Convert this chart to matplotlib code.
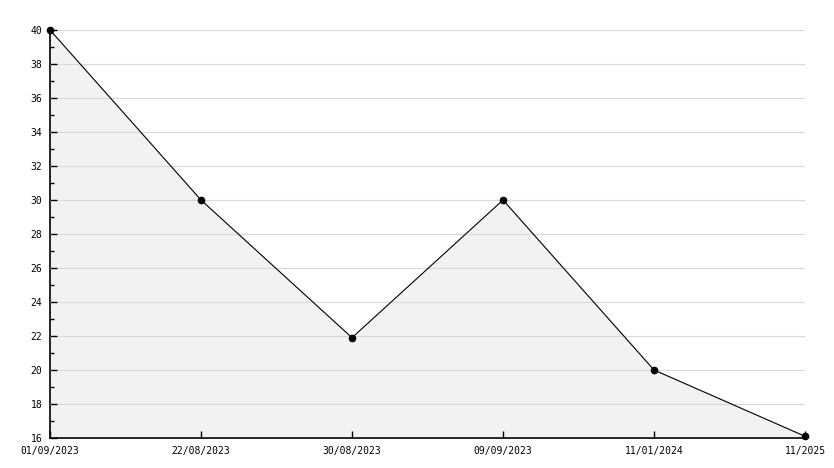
import matplotlib
matplotlib.use("Agg")
import matplotlib.pyplot as plt
from matplotlib.ticker import MultipleLocator

# data
dates = ["01/09/2023", "22/08/2023", "30/08/2023", "09/09/2023", "11/01/2024", "11/2025"]
values = [40, 30, 21.9, 30, 20, 16.1]

fig = plt.figure(figsize=(8.34, 4.68), dpi=100)
ax = fig.add_axes([50 / 834, 30 / 468, 755 / 834, 408 / 468])

xs = list(range(len(values)))
ax.fill_between(xs, values, 16, color="#f2f2f2", zorder=1)
ax.yaxis.grid(True, color="#d9d9d9", linewidth=0.8, zorder=2)
ax.set_axisbelow(False)
ax.plot(xs, values, color="black", linewidth=0.8, marker="o", markersize=4.5, zorder=3, clip_on=False)

ax.set_xlim(0, len(values) - 1)
ax.set_ylim(16, 40)
ax.yaxis.set_major_locator(MultipleLocator(2))
ax.yaxis.set_minor_locator(MultipleLocator(1))
ax.set_xticks(xs)
ax.set_xticklabels(dates)

for s in ["top", "right"]:
    ax.spines[s].set_visible(False)
ax.spines["left"].set_linewidth(1.2)
ax.spines["bottom"].set_linewidth(1.2)

ax.tick_params(axis="both", which="major", direction="in", length=5, width=1, labelsize=7)
ax.tick_params(axis="y", which="minor", direction="in", length=3, width=1)
ax.tick_params(axis="y", which="major", pad=5.5)
ax.tick_params(axis="x", pad=5.5)
for lab in ax.get_xticklabels() + ax.get_yticklabels():
    lab.set_family("DejaVu Sans Mono")

fig.savefig("out.png", dpi=100)
